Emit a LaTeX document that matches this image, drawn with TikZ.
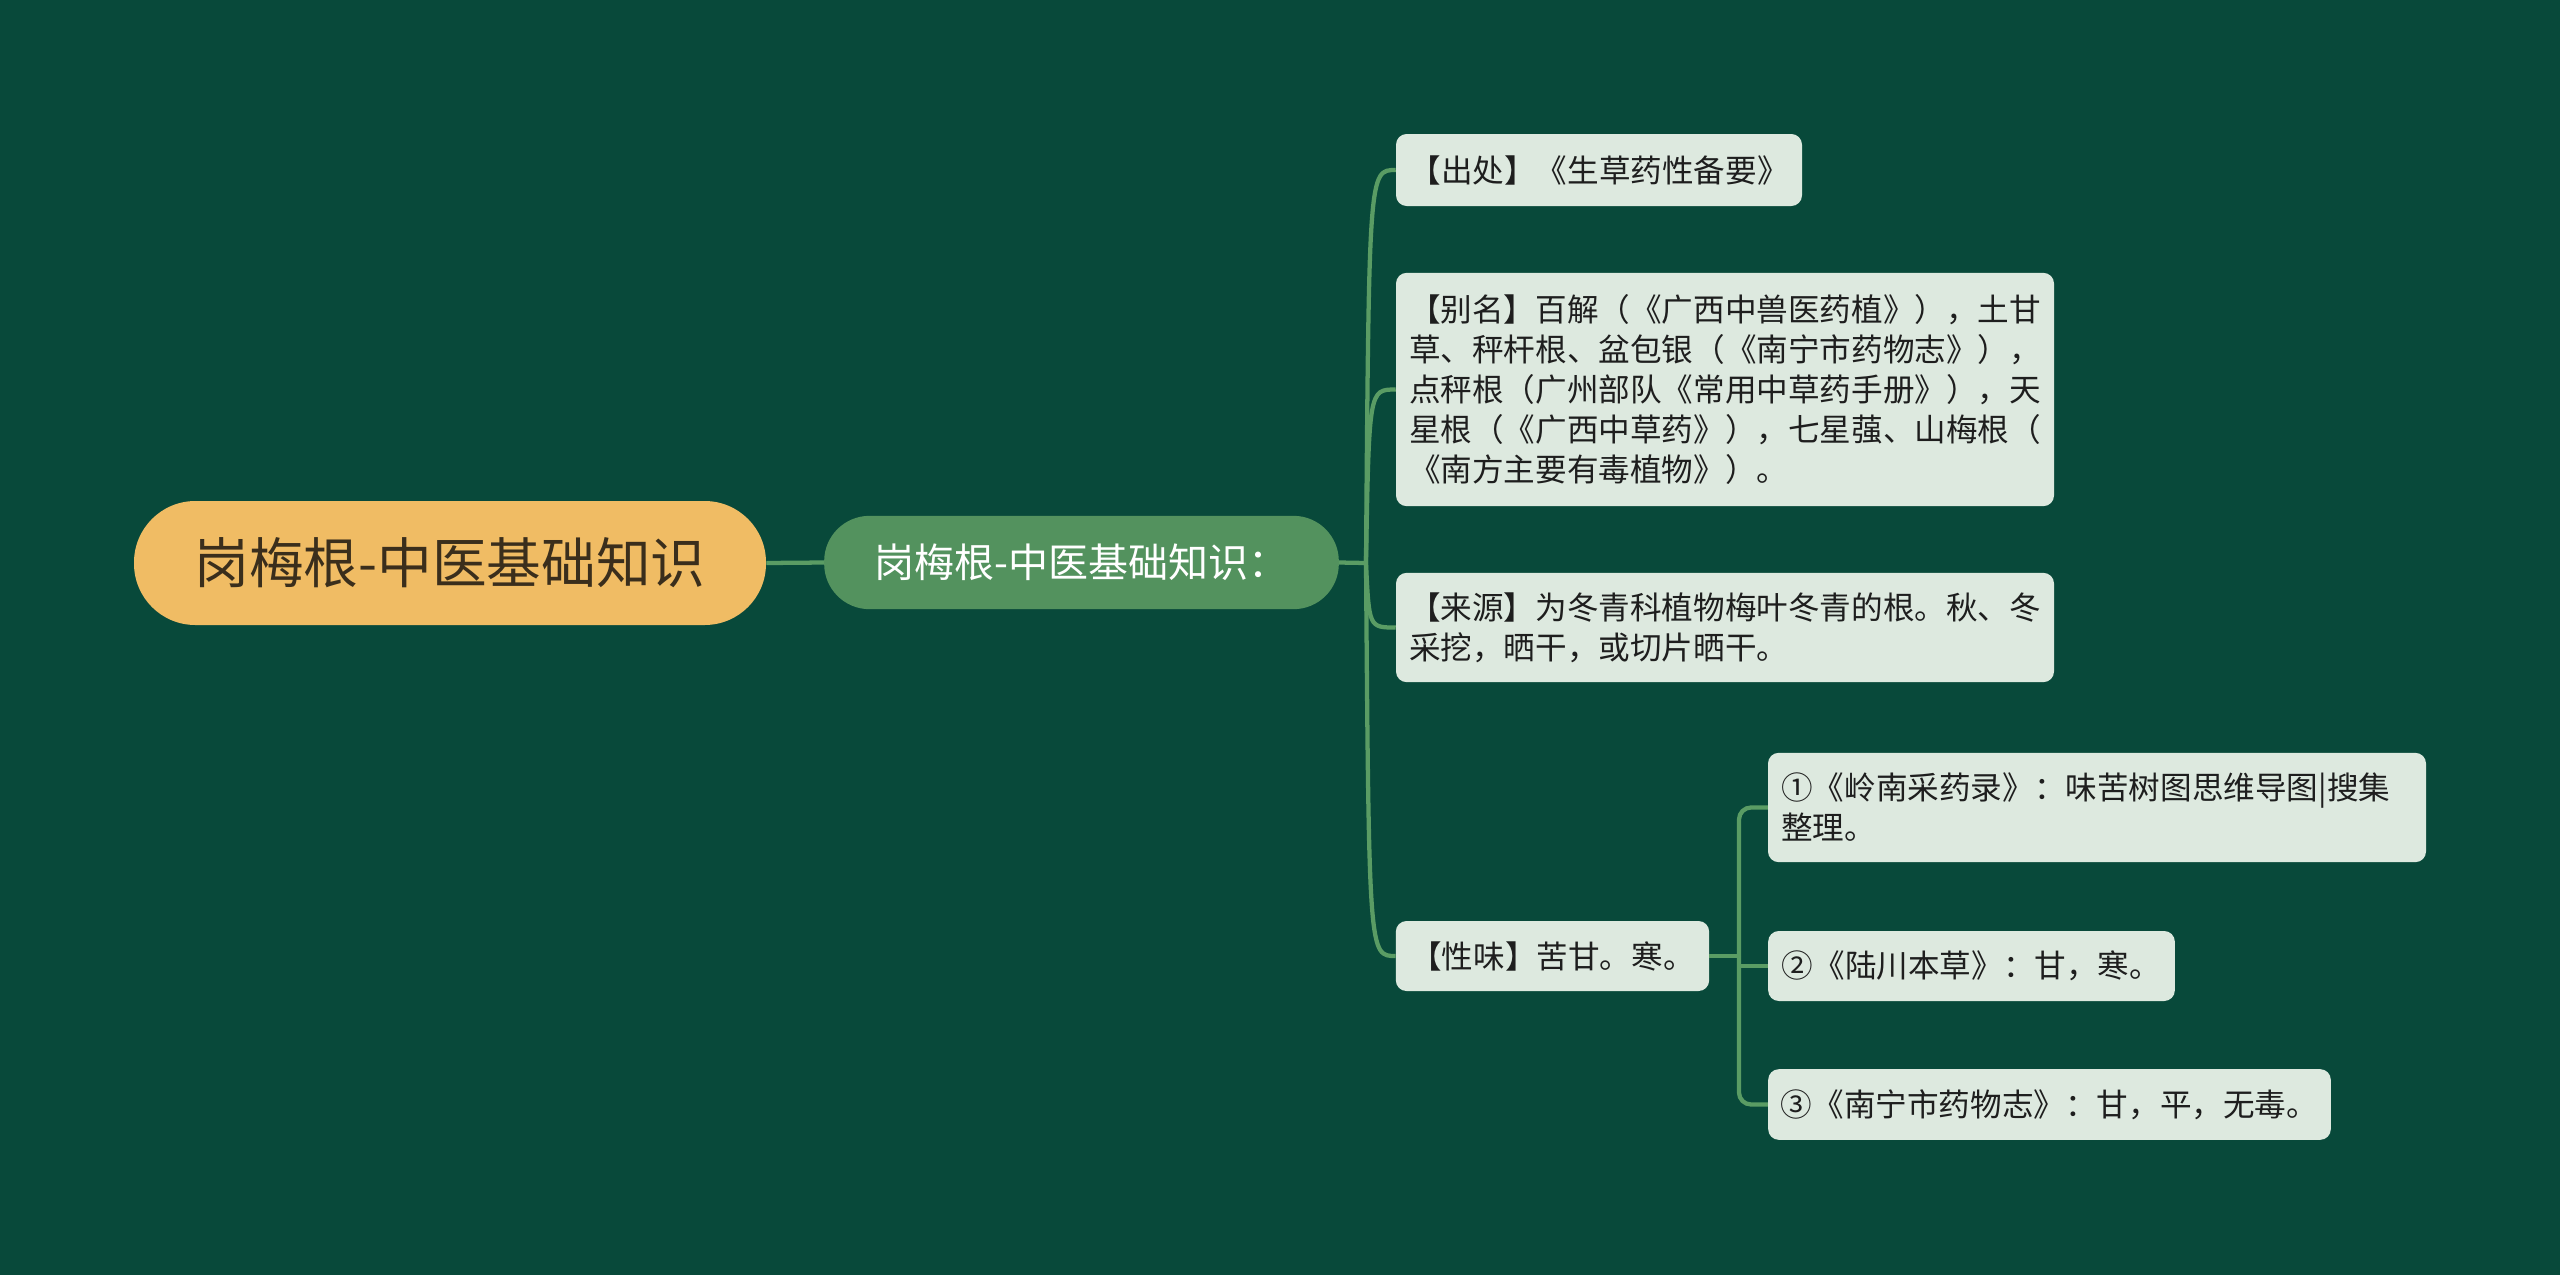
\documentclass[tikz,border=0pt]{standalone}
\usepackage{fontspec}
\setmainfont{Noto Sans CJK SC}
\definecolor{bg}{HTML}{08493A}
\definecolor{leaffill}{HTML}{DDE9DF}
\definecolor{conncol}{HTML}{5A9C64}
\definecolor{subfill}{HTML}{53925E}
\definecolor{rootfill}{HTML}{F0BC64}
\definecolor{roottext}{HTML}{3A2E1C}
\definecolor{leaftext}{HTML}{1E1E1E}
\tikzset{
  leafbox/.style={draw=none, fill=leaffill, rounded corners=8pt, inner sep=0pt,
    align=left, text=leaftext, font=\fontsize{23.7pt}{30pt}\selectfont},
  rootbox/.style={draw=none, fill=rootfill, rounded corners=46pt, inner sep=0pt,
    minimum width=474pt, minimum height=93pt, text=roottext, font=\fontsize{41pt}{48pt}\selectfont},
  subbox/.style={draw=none, fill=subfill, rounded corners=34pt, inner sep=0pt,
    minimum width=386pt, minimum height=70pt, text=white, font=\fontsize{30pt}{36pt}\selectfont},
  conn/.style={draw=conncol, line width=3.2pt},
  conntwo/.style={draw=conncol, line width=3.2pt},
}
\begin{document}
\begin{tikzpicture}[x=0.75pt,y=-0.75pt]
\useasboundingbox (0,0) rectangle (2560,1275);
\fill[bg] (0,0) rectangle (2560,1275);

\node[rootbox] (root) at (450,563) {岗梅根-中医基础知识};
\node[subbox] (sub) at (1081.5,562.5) {岗梅根-中医基础知识：};

\node[leafbox, minimum width=304.5pt, minimum height=54pt] (l1) at (1599,170) {【出处】《生草药性备要》};
\node[leafbox, minimum width=493.5pt, minimum height=175pt] (l2) at (1725,389.5) {【别名】百解（《广西中兽医药植》），土甘\\草、秤杆根、盆包银（《南宁市药物志》），\\点秤根（广州部队《常用中草药手册》），天\\星根（《广西中草药》），七星蔃、山梅根（\\《南方主要有毒植物》）。};
\node[leafbox, minimum width=493.5pt, minimum height=82pt] (l3) at (1725,627.5) {【来源】为冬青科植物梅叶冬青的根。秋、冬\\采挖，晒干，或切片晒干。};
\node[leafbox, minimum width=235pt, minimum height=52.5pt] (l4) at (1552.5,956) {【性味】苦甘。寒。};

\node[leafbox, minimum width=493.5pt, minimum height=82pt, inner xsep=10pt, text width=473.5pt] (a) at (2097,807.5) {①《岭南采药录》：味苦树图思维导图|搜集\\整理。};
\node[leafbox, minimum width=305pt, minimum height=52.5pt] (b) at (1971.5,966) {②《陆川本草》：甘，寒。};
\node[leafbox, minimum width=422pt, minimum height=53pt] (c) at (2049.5,1104.5) {③《南宁市药物志》：甘，平，无毒。};

\draw[conn] (root.east) -- (sub.west);

\coordinate (br) at (1366,563);
\draw[conn] (sub.east) -- (br);
\draw[conn] (br) .. controls (1369,170) and (1369,170) .. (l1.west);
\draw[conn] (br) .. controls (1369,389.5) and (1369,389.5) .. (l2.west);
\draw[conn] (br) .. controls (1369,627.5) and (1369,627.5) .. (l3.west);
\draw[conn] (br) .. controls (1369,956) and (1369,956) .. (l4.west);

\coordinate (brtwo) at (1739,956);
\draw[conntwo] (l4.east) -- (brtwo);
\draw[conntwo, rounded corners=9pt] (brtwo) |- (a.west);
\draw[conntwo] (brtwo) |- (b.west);
\draw[conntwo, rounded corners=9pt] (brtwo) |- (c.west);
\end{tikzpicture}
\end{document}
